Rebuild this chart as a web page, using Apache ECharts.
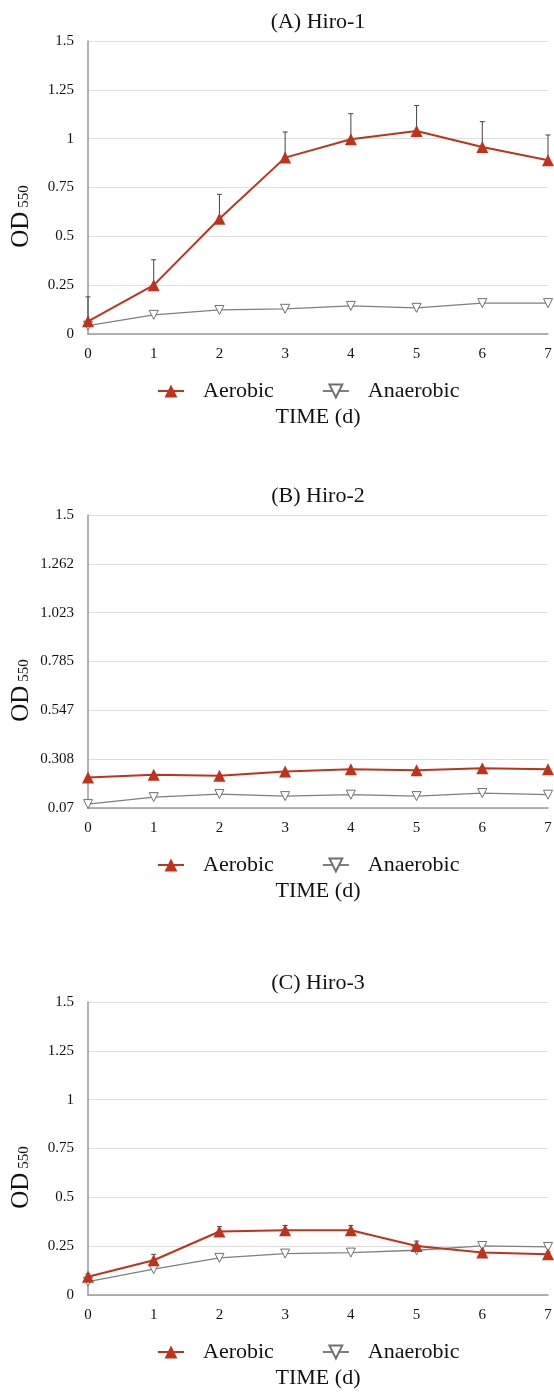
<!DOCTYPE html>
<html>
<head>
<meta charset="utf-8">
<script src="https://cdn.jsdelivr.net/npm/echarts@6/dist/echarts.min.js"></script>
<style>
html,body{margin:0;padding:0;background:#fff;}
#chart{width:554px;height:1392px;}
</style>
</head>
<body>
<div id="chart"></div>
<script>
// ---- data ----
const days = [0, 1, 2, 3, 4, 5, 6, 7];
const panelTitles = ['(A) Hiro-1', '(B) Hiro-2', '(C) Hiro-3'];
const seriesNames = ['Aerobic', 'Anaerobic'];

const aAerobic = [0.065, 0.25, 0.59, 0.903, 0.997, 1.039, 0.957, 0.889];
const aAerobicErr = [0.125, 0.13, 0.125, 0.131, 0.131, 0.131, 0.13, 0.13];
const aAnaerobic = [0.043, 0.098, 0.123, 0.129, 0.144, 0.134, 0.158, 0.158];

const bAerobic = [0.219, 0.232, 0.227, 0.248, 0.259, 0.254, 0.264, 0.259];
const bAnaerobic = [0.089, 0.123, 0.138, 0.128, 0.135, 0.128, 0.143, 0.135];

const cAerobic = [0.093, 0.178, 0.325, 0.331, 0.331, 0.251, 0.217, 0.208];
const cAerobicErr = [0.015, 0.03, 0.025, 0.025, 0.025, 0.025, 0.012, 0.012];
const cAnaerobic = [0.068, 0.132, 0.19, 0.212, 0.217, 0.229, 0.251, 0.246];

const yTicksAC = [0, 0.25, 0.5, 0.75, 1, 1.25, 1.5];
const yTicksB = [0.07, 0.308, 0.547, 0.785, 1.023, 1.262, 1.5];
const xTicks = [0, 1, 2, 3, 4, 5, 6, 7];

// ---- styles ----
const FONT = "'Liberation Serif', 'Times New Roman', serif";
const RED = '#c0321c';
const GREY = '#7f7f7f';
const gridTops = [41, 515, 1002];
const GRID_H = 293;

const panels = [
  { aero: aAerobic, aeroErr: aAerobicErr, anaer: aAnaerobic, ticks: yTicksAC },
  { aero: bAerobic, aeroErr: null, anaer: bAnaerobic, ticks: yTicksB },
  { aero: cAerobic, aeroErr: cAerobicErr, anaer: cAnaerobic, ticks: yTicksAC }
];

function pairs(vals) { return days.map((d, i) => [d, vals[i]]); }

const option = {
  animation: false,
  backgroundColor: '#fff',
  title: [], grid: [], xAxis: [], yAxis: [], legend: [], series: []
};

panels.forEach((p, k) => {
  const T = gridTops[k];
  option.title.push({
    text: panelTitles[k], left: 318, textAlign: 'center', top: T - 30, padding: 0,
    textStyle: { fontFamily: FONT, fontSize: 22, fontWeight: 'normal', color: '#111' }
  });
  option.grid.push({ left: 88, width: 460, top: T, height: GRID_H, containLabel: false, outerBoundsMode: 'none' });
  option.xAxis.push({
    type: 'value', gridIndex: k, min: 0, max: 7, interval: 1,
    name: 'TIME (d)', nameLocation: 'middle', nameGap: 72, nameMoveOverlap: false,
    nameTextStyle: { fontFamily: FONT, fontSize: 22, color: '#111' },
    axisLine: { show: true, lineStyle: { color: '#9a9a9a', width: 1.5 } },
    axisTick: { show: false },
    splitLine: { show: false },
    axisLabel: { customValues: xTicks, margin: 13, fontFamily: FONT, fontSize: 15, color: '#111' }
  });
  const yMin = p.ticks[0], yMax = p.ticks[p.ticks.length - 1];
  option.yAxis.push({
    type: 'value', gridIndex: k, min: yMin, max: yMax,
    name: '{a|OD}{b| 550}', nameLocation: 'middle', nameRotate: 90, nameGap: 54, nameMoveOverlap: false,
    nameTextStyle: {
      padding: [0, 58, 0, 0],
      rich: {
        a: { fontFamily: FONT, fontSize: 25, color: '#111', verticalAlign: 'bottom' },
        b: { fontFamily: FONT, fontSize: 15, color: '#111', verticalAlign: 'bottom', padding: [0, 0, 2, 0] }
      }
    },
    axisLine: { show: true, lineStyle: { color: '#9a9a9a', width: 1.5 } },
    axisTick: { show: false, customValues: p.ticks },
    splitLine: { show: true, lineStyle: { color: '#dedede', width: 1 } },
    axisLabel: {
      customValues: p.ticks, margin: 14, fontFamily: FONT, fontSize: 15, color: '#111',
      formatter: v => String(+v.toFixed(3))
    }
  });
  option.legend.push({
    data: seriesNames, left: 152, top: T + 334, itemWidth: 26, itemHeight: 16, itemGap: 48,
    textStyle: { fontFamily: FONT, fontSize: 22, color: '#111', padding: [0, 0, 0, 14] },
    selectedMode: false
  });
  if (p.aeroErr) {
    option.series.push({
      type: 'custom', name: 'err' + k, xAxisIndex: k, yAxisIndex: k, z: 1,
      data: days.map((d, i) => [d, p.aero[i], p.aeroErr[i]]),
      renderItem: (params, api) => {
        const x = api.value(0), y = api.value(1), e = api.value(2);
        const b = api.coord([x, y]);
        const t = api.coord([x, y + e]);
        const st = { stroke: '#444', lineWidth: 1 };
        return {
          type: 'group', children: [
            { type: 'line', shape: { x1: b[0], y1: b[1], x2: t[0], y2: t[1] }, style: st },
            { type: 'line', shape: { x1: t[0] - 2.5, y1: t[1], x2: t[0] + 2.5, y2: t[1] }, style: st }
          ]
        };
      }
    });
  }
  option.series.push({
    type: 'line', name: 'Anaerobic', xAxisIndex: k, yAxisIndex: k, z: 2,
    data: pairs(p.anaer),
    symbol: 'triangle', symbolRotate: 180, symbolSize: 9,
    lineStyle: { color: GREY, width: 1.3 },
    itemStyle: { color: '#fff', borderColor: '#6f6f6f', borderWidth: 1 }
  });
  option.series.push({
    type: 'line', name: 'Aerobic', xAxisIndex: k, yAxisIndex: k, z: 3,
    data: pairs(p.aero),
    symbol: 'triangle', symbolSize: 12,
    lineStyle: { color: RED, width: 2 },
    itemStyle: { color: RED, borderColor: RED, borderWidth: 0 }
  });
});

const chart = echarts.init(document.getElementById('chart'), null, { renderer: 'canvas' });
chart.setOption(option);
</script>
</body>
</html>
